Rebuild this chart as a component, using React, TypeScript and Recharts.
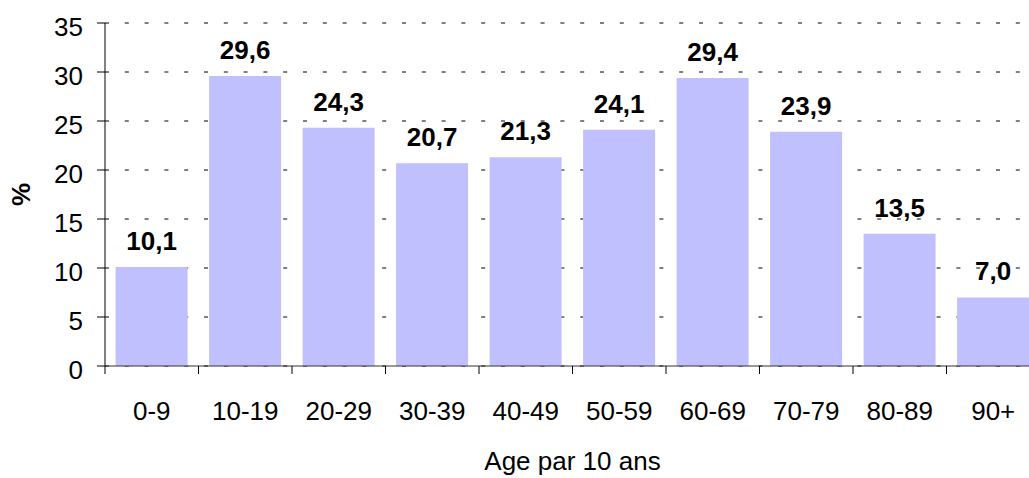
import React from 'react';
import { BarChart, Bar, XAxis, YAxis, CartesianGrid, LabelList } from 'recharts';

const categories = ['0-9', '10-19', '20-29', '30-39', '40-49', '50-59', '60-69', '70-79', '80-89', '90+'];
const percents = [10.1, 29.6, 24.3, 20.7, 21.3, 24.1, 29.4, 23.9, 13.5, 7.0];
const yTicks = [0, 5, 10, 15, 20, 25, 30, 35];

const data = categories.map((age, i) => ({ age, value: percents[i] }));

const FONT = '"Liberation Sans", Arial, sans-serif';

// ticks sit on the band edges, not on the category centres
const AgeTick = (props: any) => {
    const { x, y, payload } = props;
    const off = payload && payload.offset != null ? payload.offset : 46.8;
    return (
        <g>
            <line x1={x - off} y1={y} x2={x - off} y2={y + 8} stroke="#000" />
            <text x={x} y={y + 54} textAnchor="middle" fill="#000" fontSize={26} fontFamily={FONT}>
                {payload.value}
            </text>
        </g>
    );
};

const App: React.FC = () => {
    return (
        <div style={{ position: 'absolute', left: 0, top: 0, width: 1029, height: 478, overflow: 'hidden', background: '#fff' }}>
            <BarChart
                width={1050}
                height={478}
                data={data}
                margin={{ top: 23, right: 10, bottom: 0, left: 0 }}
                barCategoryGap={10.6}
            >
                <CartesianGrid vertical={false} stroke="#000" strokeDasharray="4 15.8" />
                <XAxis
                    dataKey="age"
                    height={112}
                    tickSize={0}
                    tickMargin={0}
                    tickLine={false}
                    axisLine={{ stroke: '#333' }}
                    tick={<AgeTick />}
                    interval={0}
                    label={(p: any) => {
                        const vb = p.viewBox;
                        return (
                            <text x={vb.x + vb.width / 2} y={470} textAnchor="middle" fill="#000" fontSize={26} fontFamily={FONT}>
                                Age par 10 ans
                            </text>
                        );
                    }}
                />
                <YAxis
                    width={105}
                    domain={[0, 35]}
                    ticks={yTicks}
                    interval={0}
                    tickSize={8}
                    tickMargin={14}
                    tickLine={{ stroke: '#000' }}
                    axisLine={{ stroke: '#000' }}
                    tick={{ fill: '#000', fontSize: 26, fontFamily: FONT, dy: 4 }}
                    label={(p: any) => {
                        const vb = p.viewBox;
                        const cy = vb.y + vb.height / 2;
                        return (
                            <text
                                x={21}
                                y={cy}
                                transform={`rotate(-90, 21, ${cy})`}
                                textAnchor="middle"
                                dominantBaseline="central"
                                fill="#000"
                                fontSize={26}
                                fontWeight="bold"
                                fontFamily={FONT}
                            >
                                %
                            </text>
                        );
                    }}
                />
                <Bar dataKey="value" fill="#C0C0FF" isAnimationActive={false}>
                    <LabelList
                        dataKey="value"
                        position="top"
                        offset={17}
                        fill="#000"
                        fontSize={26}
                        fontWeight="bold"
                        fontFamily={FONT}
                        formatter={(v: any) => Number(v).toFixed(1).replace('.', ',')}
                    />
                </Bar>
            </BarChart>
        </div>
    );
};

export default App;
